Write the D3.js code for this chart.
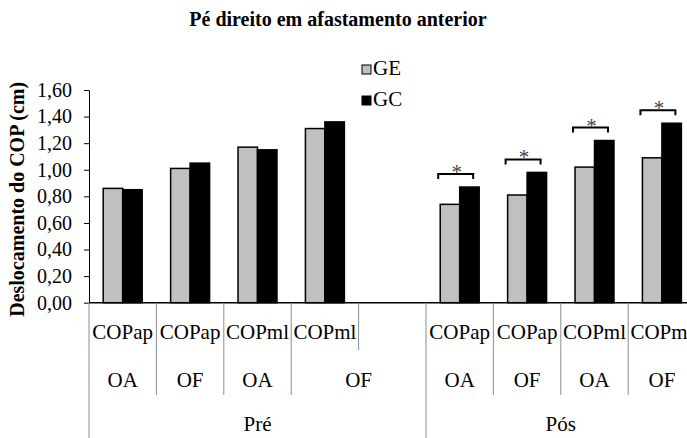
<!doctype html>
<html>
<head>
<meta charset="utf-8">
<title>Pé direito em afastamento anterior</title>
<script src="https://cdn.jsdelivr.net/npm/d3@7"></script>
<style>
	body { margin: 0; background: #fff; overflow: hidden; }
	svg text { font-family: "Liberation Serif", "Times New Roman", serif; fill: #000; }
</style>
</head>
<body>
<div id="chart"></div>
<script>
// series and values
const series = ['GE', 'GC'];
const seriesColors = ['#c0c0c0', '#000000'];
const valuesGE = [0.86, 1.01, 1.17, 1.31, null, 0.74, 0.81, 1.02, 1.09];
const valuesGC = [0.85, 1.05, 1.15, 1.36, null, 0.87, 0.98, 1.22, 1.35];
const significant = [false, false, false, false, false, true, true, true, true];

// three-level category axis
const measureLabels = ['COPap', 'COPap', 'COPml', 'COPml', '', 'COPap', 'COPap', 'COPml', 'COPml'];
const eyeGroups = [
	{ label: 'OA', from: 0, to: 1 }, { label: 'OF', from: 1, to: 2 },
	{ label: 'OA', from: 2, to: 3 }, { label: 'OF', from: 3, to: 5 },
	{ label: 'OA', from: 5, to: 6 }, { label: 'OF', from: 6, to: 7 },
	{ label: 'OA', from: 7, to: 8 }, { label: 'OF', from: 8, to: 9 }
];
const phaseGroups = [{ label: 'Pré', from: 0, to: 5 }, { label: 'Pós', from: 5, to: 9 }];
const yTicks = [0, 0.2, 0.4, 0.6, 0.8, 1.0, 1.2, 1.4, 1.6];

const W = 687, H = 438;
const plot = { left: 89, right: 695.6, top: 90, bottom: 302.7 };

const svg = d3.select('#chart').append('svg')
	.attr('width', W).attr('height', H);

const slots = d3.range(measureLabels.length);
const x = d3.scaleBand().domain(slots).range([plot.left, plot.right]).padding(0);
const x1 = d3.scaleBand().domain(series).range([0, x.bandwidth()])
	.paddingInner(0).paddingOuter(0.73);
const y = d3.scaleLinear().domain([0, 1.6]).range([plot.bottom, plot.top]);
const color = d3.scaleOrdinal().domain(series).range(seriesColors);

// title
svg.append('text')
	.attr('x', 338).attr('y', 26)
	.attr('text-anchor', 'middle')
	.style('font-weight', 'bold').style('font-size', '20px')
	.text('Pé direito em afastamento anterior');

// y axis
const yAxis = svg.append('g')
	.attr('transform', 'translate(' + plot.left + ',0)')
	.call(d3.axisLeft(y).tickValues(yTicks).tickSize(5).tickSizeOuter(0).tickPadding(12)
		.tickFormat(d => d3.format('.2f')(d).replace('.', ',')));
yAxis.selectAll('text').style('font-size', '20px');
yAxis.selectAll('line, path').attr('stroke', '#000');

svg.append('text')
	.attr('transform', 'rotate(-90)')
	.attr('x', -(plot.top + plot.bottom) / 2 - 3).attr('y', 24)
	.attr('text-anchor', 'middle')
	.style('font-weight', 'bold').style('font-size', '20px')
	.text('Deslocamento do COP (cm)');

// bars
const rows = slots.map(i => ({ i: i, GE: valuesGE[i], GC: valuesGC[i] }));
const groups = svg.append('g').selectAll('g')
	.data(rows.filter(d => d.GE != null))
	.join('g')
	.attr('transform', d => 'translate(' + x(d.i) + ',0)');
groups.selectAll('rect')
	.data(d => series.map(s => ({ key: s, value: d[s] })))
	.join('rect')
	.attr('x', d => x1(d.key))
	.attr('y', d => y(d.value))
	.attr('width', x1.bandwidth())
	.attr('height', d => y(0) - y(d.value))
	.attr('fill', d => color(d.key))
	.attr('stroke', '#000')
	.attr('stroke-width', 1.5);

// significance brackets
const sigRows = rows.filter(d => significant[d.i]);
const brLeft = d => x(d.i) + x1('GE') - 2;
const brRight = d => x(d.i) + x1('GC') + x1.bandwidth() - 6;
const brY = d => y(d.GC) - 13;
const br = svg.append('g').selectAll('g').data(sigRows).join('g');
br.append('path')
	.attr('d', d => 'M' + brLeft(d) + ',' + (brY(d) + 5) + 'V' + brY(d) + 'H' + brRight(d) + 'V' + (brY(d) + 5))
	.attr('fill', 'none').attr('stroke', '#000').attr('stroke-width', 2);
br.append('text')
	.attr('x', d => (brLeft(d) + brRight(d)) / 2 + 1)
	.attr('y', d => brY(d) + 5)
	.attr('text-anchor', 'middle')
	.style('font-size', '21px').style('fill', '#444')
	.text('*');

// x axis line
svg.append('line')
	.attr('x1', plot.left).attr('x2', plot.right)
	.attr('y1', plot.bottom).attr('y2', plot.bottom)
	.attr('stroke', '#000').attr('stroke-width', 1.5);

// category separators: slot edges short, eye group edges longer, phase edges full height
const row1Bottom = 350, row2Bottom = 395;
const edges = d3.range(measureLabels.length + 1).map(k => {
	let yEnd = row1Bottom;
	if (eyeGroups.some(g => g.from === k || g.to === k)) yEnd = row2Bottom;
	if (phaseGroups.some(g => g.from === k || g.to === k)) yEnd = H;
	return { k: k, yEnd: yEnd };
});
const edgeX = k => k < slots.length ? x(k) : plot.right;
svg.append('g').selectAll('line').data(edges).join('line')
	.attr('x1', d => edgeX(d.k)).attr('x2', d => edgeX(d.k))
	.attr('y1', plot.bottom).attr('y2', d => d.yEnd)
	.attr('stroke', '#8c8c8c').attr('stroke-width', 1);

const spanMid = g => (edgeX(g.from) + edgeX(g.to)) / 2;
svg.append('g').selectAll('text').data(slots).join('text')
	.attr('x', i => x(i) + x.bandwidth() / 2).attr('y', 339)
	.attr('text-anchor', 'middle').style('font-size', '21px')
	.text(i => measureLabels[i]);
svg.append('g').selectAll('text').data(eyeGroups).join('text')
	.attr('x', spanMid).attr('y', 387)
	.attr('text-anchor', 'middle').style('font-size', '21px')
	.text(d => d.label);
svg.append('g').selectAll('text').data(phaseGroups).join('text')
	.attr('x', spanMid).attr('y', 431)
	.attr('text-anchor', 'middle').style('font-size', '21px')
	.text(d => d.label);

// legend
const legend = svg.append('g').selectAll('g').data(series).join('g')
	.attr('transform', (d, i) => 'translate(362,' + (65 + i * 31) + ')');
legend.append('rect')
	.attr('width', 9).attr('height', 9)
	.attr('fill', d => color(d)).attr('stroke', '#000').attr('stroke-width', 1);
legend.append('text')
	.attr('x', 11).attr('y', 10)
	.style('font-size', '21px')
	.text(d => d);
</script>
</body>
</html>
